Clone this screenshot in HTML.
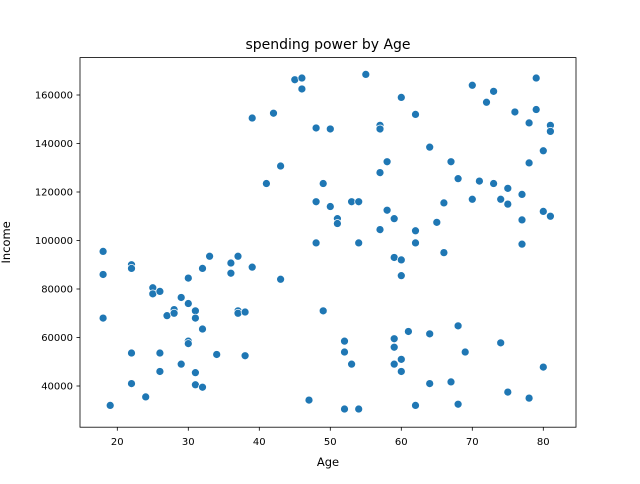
<!DOCTYPE html>
<html><head><meta charset="utf-8"><style>
body{margin:0;background:#fff;font-family:"DejaVu Sans","Liberation Sans",sans-serif;}
svg text{font-family:"DejaVu Sans","Liberation Sans",sans-serif;fill:#000;}
</style></head><body>
<svg id="chart" width="640" height="480" xmlns="http://www.w3.org/2000/svg">
<rect width="640" height="480" fill="#fff"/>
<text x="328" y="49" font-size="14" text-anchor="middle">spending power by Age</text>
<g id="ticks"></g>
<g id="points"></g>
<rect x="80" y="57.6" width="496" height="369.6" fill="none" stroke="#000" stroke-width="0.8"/>
<text x="328" y="466" font-size="11.5" text-anchor="middle">Age</text>
<text x="0" y="0" font-size="11.5" text-anchor="middle" transform="translate(10,242.4) rotate(-90)">Income</text>
</svg>
<script>
const ages=[18,18,18,19,22,22,22,22,24,25,25,26,26,26,27,28,28,29,29,30,30,30,30,31,31,31,31,32,32,32,33,34,36,36,37,37,37,38,38,39,39,41,42,43,43,45,46,46,47,48,48,48,49,49,50,50,51,51,52,52,52,53,53,54,54,54,55,57,57,57,57,58,58,59,59,59,59,59,60,60,60,60,60,61,62,62,62,62,64,64,64,65,66,66,67,67,68,68,68,69,70,70,71,72,73,73,74,74,75,75,75,76,77,77,77,78,78,78,79,79,80,80,80,81,81,81];
const incomes=[95500,86000,68000,32000,90000,88500,53600,41000,35500,80500,78000,79000,53600,46000,69000,71500,70000,76500,49000,84500,74000,58500,57500,71000,68000,45500,40500,88500,63500,39500,93500,53000,90700,86500,93500,71000,70000,70500,52500,89000,150500,123500,152500,130700,84000,166300,167000,162500,34200,146400,116000,99000,123500,71000,146000,114000,109000,107000,58500,54000,30500,49000,116000,116000,99000,30500,168500,147500,146000,128000,104500,132500,112500,109000,93000,59500,56000,49000,159000,92000,85500,51000,46000,62500,152000,104000,99000,32000,138500,61500,41000,107500,115500,95000,132500,41700,125500,64800,32500,54000,164000,117000,124500,157000,161500,123500,117000,57800,121500,115000,37500,153000,108500,119000,98500,148500,132000,35000,167000,154000,137000,112000,47800,147500,145000,110000];
const xTicks=[20,30,40,50,60,70,80];
const yTicks=[40000,60000,80000,100000,120000,140000,160000];
const xS=v=>117.3+(v-20)*7.1;
const yS=v=>386-(v-40000)*0.002425;
const NS="http://www.w3.org/2000/svg";
const tg=document.getElementById('ticks');
function mk(tag,attrs,parent){const e=document.createElementNS(NS,tag);for(const k in attrs)e.setAttribute(k,attrs[k]);parent.appendChild(e);return e;}
xTicks.forEach(t=>{const x=xS(t);
 const l=mk('line',{x1:x,x2:x,y1:427.2,y2:430.7,stroke:'#000','stroke-width':0.8},tg);
 
 
 const tx=mk('text',{x:x,y:445,'font-size':10,'text-anchor':'middle'},tg);tx.textContent=t;
 
 
});
yTicks.forEach(t=>{const y=yS(t);
 const l=mk('line',{x1:76.5,x2:80,y1:y,y2:y,stroke:'#000','stroke-width':0.8},tg);
 
 
 const tx=mk('text',{x:73,y:y+3.6,'font-size':10,'text-anchor':'end'},tg);tx.textContent=t;
 
 
});
const pg=document.getElementById('points');
ages.forEach((a,i)=>{
 const c=mk('circle',{cx:xS(a),cy:yS(incomes[i]),r:4,fill:'#1f77b4',stroke:'#fff','stroke-width':0.75},pg);
 
 
});
</script>
</body></html>
